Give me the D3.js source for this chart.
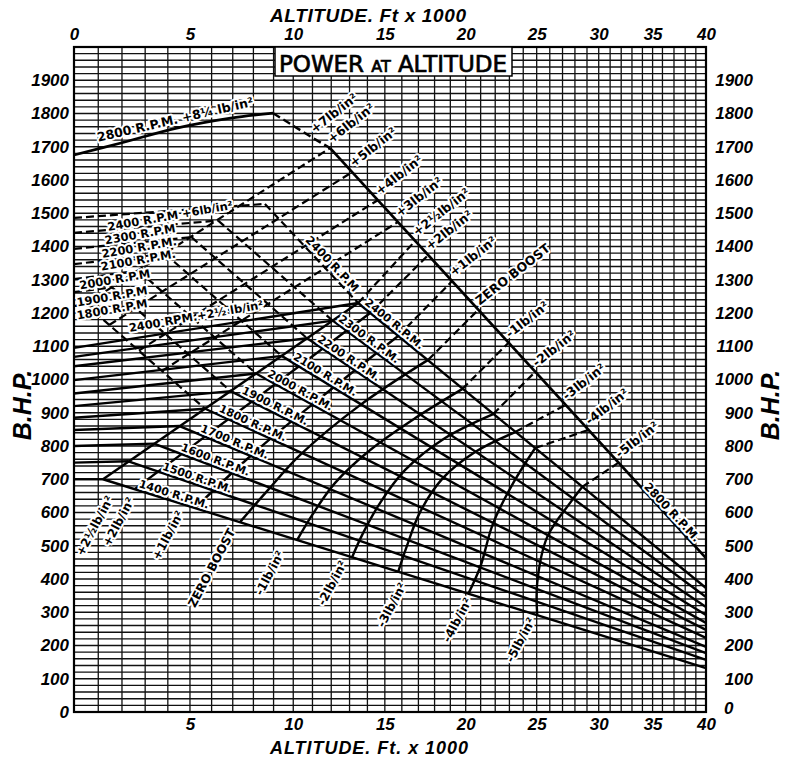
<!DOCTYPE html>
<html><head><meta charset="utf-8">
<script src="https://cdn.jsdelivr.net/npm/d3@7"></script>
<style>
body{margin:0;background:#fff;}
svg{display:block;}
text{font-family:"Liberation Sans",Arial,sans-serif;}
</style></head><body>
<svg id="chart" width="785" height="759"></svg>
<script>
// ================= DATA (altitude in 1000 ft, power in B.H.P.) =================
const altitudeTicks = [0,5,10,15,20,25,30,35,40];
const bhpTicks = [0,100,200,300,400,500,600,700,800,900,1000,1100,1200,1300,1400,1500,1600,1700,1800,1900];
const rpms = [1400,1500,1600,1700,1800,1900,2000,2100,2200,2300,2400];

// +2½ lb/in² climbing lines: sea-level power -> full throttle point
const seaLevelBhp = [700,750,800,848,885,920,958,998,1040,1068,1095];
const fthAlt      = [1.2,2.28,3.39,4.53,5.7,6.9,8.13,9.41,10.72,12.08,13.48];
const fthBhp      = [700,754,807,860,912,965,1018,1071,1124,1177,1230];
// full-throttle power at 40 000 ft
const bhpAt40     = [132,157,177,196,223,247,268,292,316,346,373];

// +6 lb/in² (emergency) lines for 1800-2400 rpm: sea level -> full throttle height
const emergRpms   = [1800,1900,2000,2100,2200,2300,2400];
const emergSeaBhp = [1221,1263,1302,1347,1393,1441,1486];
const emergFthAlt = [0.47,1.58,2.71,3.88,5.07,6.31,8.57];
const emergFthBhp = [1227,1277,1327,1378,1428,1478,1528];

// 2800 rpm take-off curve and its full throttle line
const takeOff2800   = [[0,1675],[2,1712],[4.4,1756],[6.9,1786],[8.98,1801]];
const takeOffFall   = [[8.98,1801],[11.03,1726],[11.94,1696]];
const fullThrottle2800 = [[11.94,1696],[40,463]];

// constant boost lines (solid part from 1400 rpm line to 2400 rpm line)
const boostLabels = ["+2½lb/in²","+2lb/in²","+1lb/in²","ZERO BOOST","-1lb/in²","-2lb/in²","-3lb/in²","-4lb/in²","-5lb/in²"];
const boostSolid = [
  [[1.2,700],[13.48,1230]],
  [[2.56,671],[14.16,1200]],
  [[5.24,614],[8.08,782],[11.41,944],[15.78,1131]],
  [[7.35,571],[8.73,668],[10.36,773],[13.59,923],[17.6,1059]],
  [[10.2,517],[10.98,592],[12.21,689],[14.16,788],[16.81,884],[19.77,971]],
  [[13.15,466],[13.7,532],[14.73,629],[16.2,728],[18.67,824],[21.86,896]],
  [[15.78,421],[16.26,493],[17.11,602],[18.54,704],[20.63,782],[23.42,842]],
  [[20.17,355],[20.97,436],[21.86,568],[23.28,689],[24.89,794]],
  [[25.04,292],[25.04,388],[25.8,526],[27.61,629],[28.6,677]]
];
// where each boost line meets the 2800 rpm full throttle line
const boostOn2800 = [[16.81,1417],[17.6,1374],[19.12,1296],[20.83,1209],[22.92,1110],[24.89,1023],[27.21,923],[29.1,848],[31.73,749]];
// emergency boost lines (+3 ... +6) : start on 1800 rpm extension, end on 2800 line
const highBoostLabels = ["+3lb/in²","+4lb/in²","+5lb/in²","+6lb/in²","+7lb/in²"];
const highBoostStart = [[3.74,1026],[2.73,1087],[1.46,1164],[0.47,1227]];
const highBoostOn2800 = [[15.78,1474],[14.61,1540],[13.15,1624],[11.94,1696],[11.03,1726]];

// ================= SCALES =================
function sigma(kft){            // ICAO relative air density
  const h = kft*1000;
  return h <= 36089 ? Math.pow(1-6.8756e-6*h, 4.2559) : 0.29707*Math.exp(-(h-36089)/20806);
}
const W = 785, H = 759;
const plot = {left:74, right:706, top:47, bottom:712};
const densityScale = d3.scaleLinear().domain([1, sigma(40)]).range([plot.left, plot.right]);
const gridAlts = d3.range(0, 41);
const x = d3.scaleLinear().domain(gridAlts).range(gridAlts.map(a => densityScale(sigma(a))));
const y = d3.scaleLinear().domain([0, 2000]).range([plot.bottom, plot.top]);

const svg = d3.select("#chart");
svg.append("rect").attr("width",W).attr("height",H).attr("fill","#fff");

// ---- grid
const g = svg.append("g");
g.selectAll("line.h").data(d3.range(0, 2001, 20)).join("line")
  .attr("x1",plot.left).attr("x2",plot.right)
  .attr("y1",d=>y(d)).attr("y2",d=>y(d))
  .attr("stroke","#111").attr("stroke-width",1.4);
g.selectAll("line.v").data(gridAlts).join("line")
  .attr("y1",plot.top).attr("y2",plot.bottom)
  .attr("x1",d=>x(d)).attr("x2",d=>x(d))
  .attr("stroke","#111").attr("stroke-width",1.3);
svg.append("rect").attr("x",plot.left).attr("y",plot.top)
  .attr("width",plot.right-plot.left).attr("height",plot.bottom-plot.top)
  .attr("fill","none").attr("stroke","#000").attr("stroke-width",2.2);

// ---- axes
const tickFont = "bold italic 17px 'Liberation Sans', Arial, sans-serif";
const fmt = d3.format("d");
function styleAxis(sel){
  sel.select(".domain").remove();
  sel.selectAll(".tick line").remove();
  sel.selectAll("text").style("font", tickFont).attr("fill","#000");
}
svg.append("g").attr("transform",`translate(0,${plot.top-7})`)
  .call(d3.axisTop(x).tickValues(altitudeTicks).tickFormat(fmt).tickSize(0).tickPadding(0)).call(styleAxis);
svg.append("g").attr("transform",`translate(0,${plot.bottom+3})`)
  .call(d3.axisBottom(x).tickValues(altitudeTicks.slice(1)).tickFormat(fmt).tickSize(0).tickPadding(0)).call(styleAxis)
  .selectAll("text").attr("dy","0.9em");
svg.append("g").attr("transform",`translate(${plot.left-5},0)`)
  .call(d3.axisLeft(y).tickValues(bhpTicks).tickFormat(fmt).tickSize(0).tickPadding(0)).call(styleAxis);
const ra = svg.append("g").attr("transform",`translate(${plot.right+47},0)`)
  .call(d3.axisLeft(y).tickValues(bhpTicks).tickFormat(fmt).tickSize(0).tickPadding(0)).call(styleAxis);
ra.selectAll(".tick").filter(d=>d===0).select("text").attr("text-anchor","start").attr("x",-29).attr("dy","0.1em");

// ---- axis titles
svg.append("text").attr("x",368).attr("y",22).attr("text-anchor","middle")
  .style("font","bold italic 19px 'Liberation Sans', Arial, sans-serif").attr("textLength",196)
  .text("ALTITUDE. Ft x 1000");
svg.append("text").attr("x",369).attr("y",754).attr("text-anchor","middle")
  .style("font","bold italic 18px 'Liberation Sans', Arial, sans-serif").attr("textLength",198)
  .text("ALTITUDE. Ft. x 1000");
[22,770].forEach(cx=>{
  svg.append("text").attr("transform",`translate(${cx},405) rotate(-90)`).attr("text-anchor","middle")
    .attr("dy","0.35em")
    .style("font","bold italic 25px 'Liberation Sans', Arial, sans-serif").text("B.H.P.");
});

// ================= CURVES =================
const straight = d3.line().x(d=>x(d[0])).y(d=>y(d[1]));
const smooth = d3.line().x(d=>x(d[0])).y(d=>y(d[1])).curve(d3.curveCatmullRom.alpha(0.5));
const curves = svg.append("g").attr("fill","none").attr("stroke","#000")
  .attr("stroke-linejoin","round").attr("stroke-linecap","butt");
const DASH = "8,4";
function draw(pts, w, dash, gen){
  const p = curves.append("path").attr("d", (gen||straight)(pts)).attr("stroke-width", w);
  if (dash) p.attr("stroke-dasharray", dash);
  return p;
}
rpms.forEach((r,i)=>{
  draw([[0,seaLevelBhp[i]],[fthAlt[i],fthBhp[i]]], 2.4);
  draw([[fthAlt[i],fthBhp[i]],[40,bhpAt40[i]]], 2.4);
});
emergRpms.forEach((r,k)=>{
  const i = rpms.indexOf(r);
  draw([[0,emergSeaBhp[k]],[emergFthAlt[k],emergFthBhp[k]]], 2.2, DASH);
  draw([[emergFthAlt[k],emergFthBhp[k]],[fthAlt[i],fthBhp[i]]], 2.2, DASH);
});
highBoostStart.forEach((s,i)=> draw([s, highBoostOn2800[i]], 2.2, DASH));
draw(takeOff2800, 2.7, null, smooth);
draw(takeOffFall, 2.4, DASH);
draw(fullThrottle2800, 2.7);
boostSolid.forEach((pts,i)=>{
  draw(pts, 2.4, null, pts.length>2 ? smooth : straight);
  draw([pts[pts.length-1], boostOn2800[i]], 2.2, DASH);
});

// ================= LABELS =================
const lab = svg.append("g");
function label(txt, px, py, ang, size, anchor, dx, dy){
  lab.append("text").attr("transform",`translate(${px},${py}) rotate(${ang})`)
    .attr("text-anchor",anchor||"middle").attr("dx",dx||0).attr("dy",dy==null?"0.35em":dy)
    .style("font",`bold ${size||11.5}px 'DejaVu Sans', sans-serif`)
    .attr("stroke","#fff").attr("stroke-width",4).attr("stroke-linejoin","round").attr("paint-order","stroke")
    .attr("fill","#000").text(txt);
}
const at = (a,b)=>[x(a),y(b)];
label("2800 R.P.M. +8¼ lb/in²", ...at(4.33,1782), -13, 12.5);
const topLabels = highBoostLabels.slice(0,4).map((t,i)=>[t, highBoostOn2800[i]])
  .concat(boostLabels.map((t,i)=>[t, boostOn2800[i]]))
  .concat([[highBoostLabels[4], highBoostOn2800[4]]]);
topLabels.forEach(([t,p])=> label(t, ...at(p[0],p[1]), -38, 12.5, "start", 4, "-0.2em"));
label("2800 R.P.M.", ...at(36.85,601), 47, 11.5);
[["2400 R.P.M +6lb/in²",4.1,1492],["2300 R.P.M",2.78,1437],["2200 R.P.M.",2.74,1397],["2100 R.P.M.",2.7,1359],
 ["2000 R.P.M",1.7,1301],["1900 R.P.M",1.58,1250],["1800 R.P.M",1.58,1211],["2400 RPM.+2½ lb/in²",5.28,1190]]
 .forEach(d=>label(d[0],...at(d[1],d[2]),-10,11.5));
const ftLabelAlt = [4.19,5.24,6.07,6.97,7.84,8.93,10.2,11.5,12.76,13.87,15.31];
rpms.forEach((r,i)=>{
  const [x0,y0] = at(fthAlt[i],fthBhp[i]), [x1,y1] = at(40,bhpAt40[i]);
  const px = x(ftLabelAlt[i]), t = (px-x0)/(x1-x0), py = y0 + t*(y1-y0);
  const ang = Math.atan2(y1-y0, x1-x0)*180/Math.PI;
  const nx = Math.sin(ang*Math.PI/180), ny = -Math.cos(ang*Math.PI/180);
  label(`${r} R.P.M.`, px+nx*7, py+ny*7, ang, 11);
});
{
  const k = emergRpms.indexOf(2400), i = rpms.indexOf(2400);
  const [x0,y0] = at(emergFthAlt[k],emergFthBhp[k]), [x1,y1] = at(fthAlt[i],fthBhp[i]);
  const ang = Math.atan2(y1-y0,x1-x0)*180/Math.PI;
  const px = x0 + 0.66*(x1-x0), py = y0 + 0.66*(y1-y0);
  label("2400 R.P.M", px+Math.sin(ang*Math.PI/180)*8, py-Math.cos(ang*Math.PI/180)*8, ang, 11.5);
}
[["+2½lb/in²",0.85,560],["+2lb/in²",1.85,572],["+1lb/in²",4,532],["ZERO BOOST",6,433],["-1lb/in²",8.8,418],
 ["-2lb/in²",12.05,388],["-3lb/in²",15.4,322],["-4lb/in²",19.45,277],["-5lb/in²",23.8,217]]
 .forEach(d=>label(d[0],...at(d[1],d[2]),-62,12));

// ---- title
const tb = svg.append("g");
tb.append("rect").attr("x",275).attr("y",plot.top).attr("width",237).attr("height",29)
  .attr("fill","#fff").attr("stroke","#000").attr("stroke-width",1.5);
const tt = tb.append("text").attr("x",279).attr("y",72).attr("textLength",228)
  .style("font","23px 'DejaVu Sans', sans-serif").attr("stroke","#000").attr("stroke-width",0.7);
tt.append("tspan").text("POWER ");
tt.append("tspan").style("font-size","16px").text("AT");
tt.append("tspan").text(" ALTITUDE");
</script>
</body></html>
